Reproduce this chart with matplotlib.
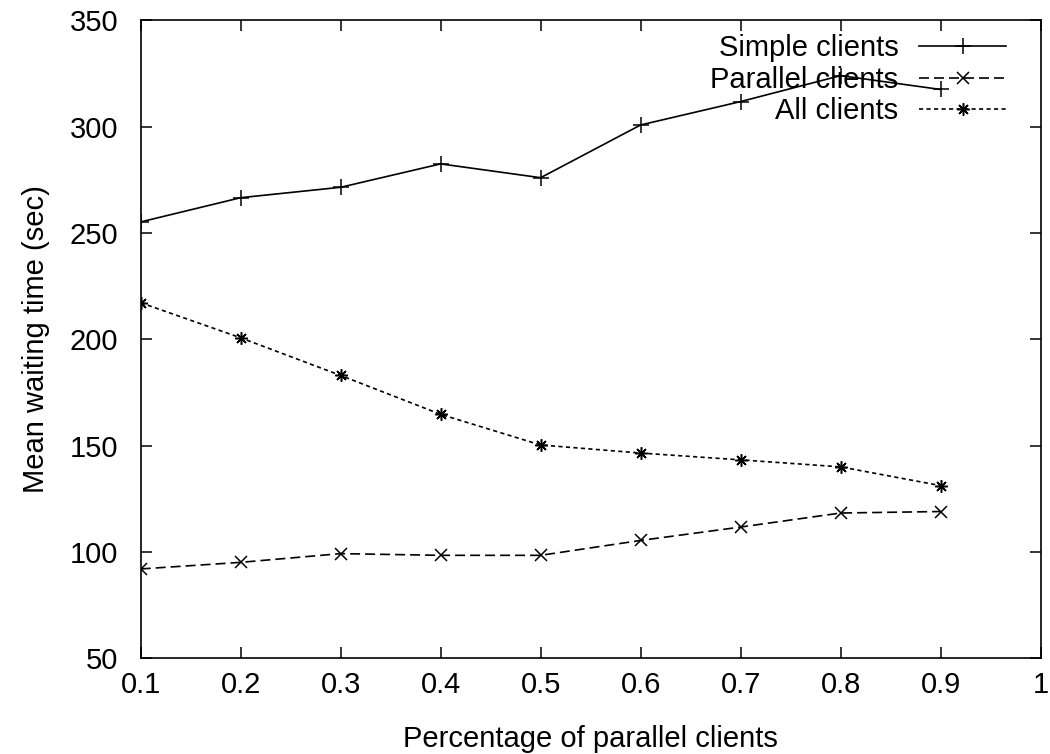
import matplotlib
matplotlib.use("Agg")
import matplotlib.pyplot as plt

# Fraction of parallel clients in the population
pct_parallel = [0.1, 0.2, 0.3, 0.4, 0.5, 0.6, 0.7, 0.8, 0.9]

# Mean waiting time (seconds) per client group
simple_clients = [255.2, 266.6, 271.5, 282.5, 276.0, 300.8, 311.8, 324.0, 317.5]
parallel_clients = [92.0, 95.1, 99.2, 98.4, 98.4, 105.4, 111.7, 118.3, 119.0]
all_clients = [217.2, 200.7, 183.0, 164.7, 150.3, 146.5, 143.3, 140.0, 131.2]

x_ticks = [0.1, 0.2, 0.3, 0.4, 0.5, 0.6, 0.7, 0.8, 0.9, 1.0]
x_tick_labels = ["0.1", "0.2", "0.3", "0.4", "0.5", "0.6", "0.7", "0.8", "0.9", "1"]
y_ticks = [50, 100, 150, 200, 250, 300, 350]

plt.rcParams["font.family"] = ["Liberation Sans", "DejaVu Sans"]
FS = 21

fig = plt.figure(figsize=(10.5, 7.54), dpi=100)
ax = fig.add_axes([0.134, 0.127, 0.857, 0.846])

ax.plot(pct_parallel, simple_clients, color="black", linewidth=1.2,
        linestyle="-", marker="+", markersize=11, markeredgewidth=1.1,
        label="Simple clients")
ax.plot(pct_parallel, parallel_clients, color="black", linewidth=1.2,
        linestyle=(0, (6, 3)), marker="x", markersize=8, markeredgewidth=1.1,
        label="Parallel clients")
ax.plot(pct_parallel, all_clients, color="black", linewidth=1.2,
        linestyle=(0, (2.5, 2)), marker=(8, 2, 0), markersize=9,
        markeredgewidth=1.1, label="All clients")

ax.set_xlim(0.1, 1.0)
ax.set_ylim(50, 350)
ax.set_xticks(x_ticks)
ax.set_xticklabels(x_tick_labels)
ax.set_yticks(y_ticks)

ax.tick_params(axis="both", which="major", direction="in", length=8,
               width=1.1, top=True, right=True, labelsize=FS)
ax.tick_params(axis="x", pad=9)
ax.tick_params(axis="y", pad=16)
for spine in ax.spines.values():
    spine.set_linewidth(1.2)

ax.set_xlabel("Percentage of parallel clients", fontsize=FS, labelpad=19)
ax.set_ylabel("Mean waiting time (sec)", fontsize=FS, labelpad=14)

leg = ax.legend(loc="upper right", bbox_to_anchor=(0.962, 0.978),
                frameon=False, markerfirst=False, fontsize=FS,
                handlelength=3.0, handletextpad=0.7, labelspacing=0.12,
                borderpad=0.0, borderaxespad=0.0)

fig.savefig("out.png", dpi=100, facecolor="white")
